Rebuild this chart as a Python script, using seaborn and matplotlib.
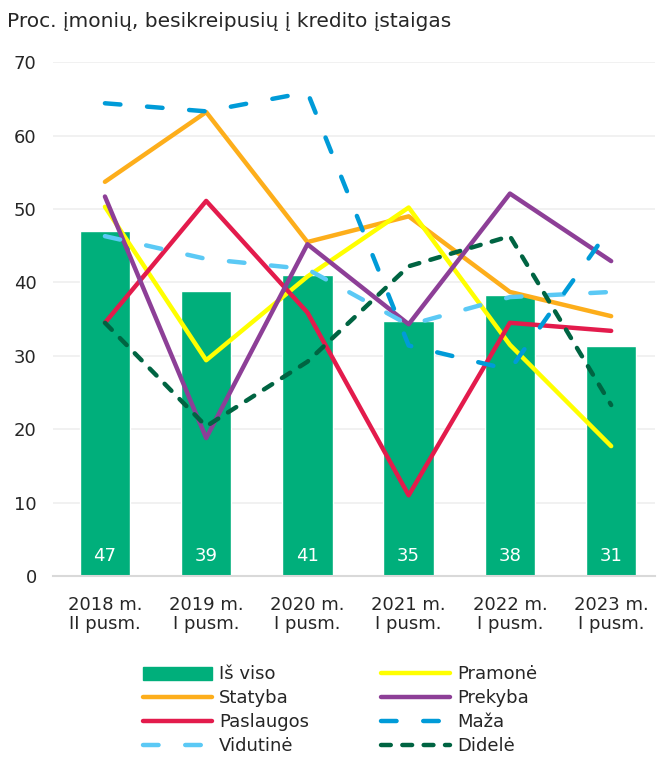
import numpy as np
import pandas as pd
import seaborn as sns
import matplotlib.pyplot as plt
from matplotlib.lines import Line2D
from matplotlib.patches import Patch

periods = ["2018 m.\nII pusm.", "2019 m.\nI pusm.", "2020 m.\nI pusm.",
           "2021 m.\nI pusm.", "2022 m.\nI pusm.", "2023 m.\nI pusm."]
is_viso = [47.0, 38.8, 41.0, 34.7, 38.3, 31.3]
pramone = [50.3, 29.4, 40.8, 50.2, 31.5, 17.7]
statyba = [53.7, 63.2, 45.5, 49.0, 38.7, 35.4]
prekyba = [51.7, 18.8, 45.2, 34.3, 52.1, 42.9]
paslaugos = [34.5, 51.1, 35.9, 11.0, 34.5, 33.4]
maza = [64.4, 63.3, 65.9, 31.4, 28.1, 47.6]
vidutine = [46.3, 43.2, 41.8, 34.2, 38.0, 38.7]
didele = [34.5, 20.4, 29.2, 42.2, 46.3, 23.3]

sns.set_theme(style="white")
plt.rcParams['font.family'] = ['DejaVu Sans']

fig = plt.figure(figsize=(6.58, 7.58), dpi=100)
ax = fig.add_axes([0.081, 0.240, 0.914, 0.678])

x = np.arange(len(periods))
bars = pd.DataFrame({"x": x, "v": is_viso})
sns.barplot(data=bars, x="x", y="v", color="#00AF7B", saturation=1,
            width=0.5, ax=ax, zorder=2, native_scale=True)

series = [
    ("Statyba", statyba, "#FDAE1B", None),
    ("Pramonė", pramone, "#FFFF00", None),
    ("Paslaugos", paslaugos, "#E31B4C", None),
    ("Prekyba", prekyba, "#8D3F97", None),
    ("Vidutinė", vidutine, "#5BC9F5", (3.5, 6)),
    ("Maža", maza, "#009BD8", (3.5, 6)),
    ("Didelė", didele, "#006442", (2.2, 2.6)),
]
for name, vals, col, dash in series:
    df = pd.DataFrame({"x": x, "v": vals})
    sns.lineplot(data=df, x="x", y="v", color=col, linewidth=3.2, ax=ax,
                 zorder=3, solid_capstyle="round", dash_capstyle="round")
    if dash is not None:
        ax.lines[-1].set_dashes(dash)

for xi, v in zip(x, is_viso):
    ax.text(xi, 2.8, f"{v:.0f}", ha="center", va="center", color="white",
            fontsize=13, zorder=4)

ax.set_xlim(-0.51, 5.43)
ax.set_ylim(0, 70)
ax.set_yticks(range(0, 71, 10))
ax.set_xticks(x)
ax.set_xticklabels(periods, fontsize=13, linespacing=1.1)
ax.tick_params(axis="y", labelsize=13, pad=12, length=0)
ax.tick_params(axis="x", pad=14, length=0)
ax.set_xlabel("")
ax.set_ylabel("")
ax.grid(axis="y", color="#EFEFEF", linewidth=1.2, zorder=0)
ax.set_axisbelow(True)
for s in ["top", "right", "left"]:
    ax.spines[s].set_visible(False)
ax.spines["bottom"].set_color("#D9D9D9")
ax.spines["bottom"].set_linewidth(1.5)

fig.text(0.010, 0.972, "Proc. įmonių, besikreipusių į kredito įstaigas",
         fontsize=14.5, ha="left", va="center")

def ln(col, dash=None):
    h = Line2D([], [], color=col, linewidth=3.2, solid_capstyle="round",
               dash_capstyle="round")
    if dash is not None:
        h.set_dashes(dash)
    return h

handles = [Patch(color="#00AF7B"), ln("#FDAE1B"), ln("#E31B4C"),
           ln("#5BC9F5", (3.5, 6)),
           ln("#FFFF00"), ln("#8D3F97"), ln("#009BD8", (3.5, 6)),
           ln("#006442", (2.2, 2.6))]
labels = ["Iš viso", "Statyba", "Paslaugos", "Vidutinė",
          "Pramonė", "Prekyba", "Maža", "Didelė"]
fig.legend(handles, labels, loc="lower center", bbox_to_anchor=(0.517, 0.0),
           ncol=2, frameon=False, fontsize=13, handlelength=3.8,
           columnspacing=3.97, labelspacing=0.33, handletextpad=0.4,
           handleheight=0.75, borderaxespad=0.0, borderpad=0.15)

fig.savefig("out.png", dpi=100)
